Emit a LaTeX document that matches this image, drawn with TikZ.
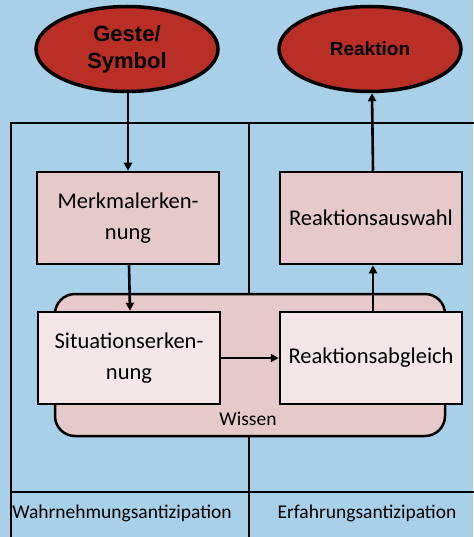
\documentclass[tikz,border=0pt]{standalone}
\usepackage{fontspec}
\setmainfont{Carlito}
\newfontfamily\headfont{Liberation Sans}
\usetikzlibrary{arrows.meta,shapes.geometric}

\definecolor{skyblue}{RGB}{168,208,232}
\definecolor{deepred}{RGB}{185,46,37}
\definecolor{rosebox}{RGB}{230,202,202}
\definecolor{palebox}{RGB}{242,230,230}

\tikzset{
  endpoint/.style={ellipse, draw, line width=3.5pt, fill=deepred,
    minimum width=182pt, minimum height=85pt,
    font=\headfont\bfseries\fontsize{22}{27}\selectfont, align=center},
  stepbox/.style={rectangle, draw, line width=2.5pt,
    minimum width=182pt, minimum height=92pt,
    font=\fontsize{22.5}{31}\selectfont, align=center},
  lanetext/.style={font=\fontsize{19.5}{22}\selectfont},
  flow/.style={line width=2.6pt, -{Triangle[length=8pt,width=8pt]}},
  lane/.style={line width=1.8pt}
}

\begin{document}
\begin{tikzpicture}[x=1pt,y=-1pt]
  \useasboundingbox[fill=skyblue] (0,0) rectangle (473,537);

  % swim lanes
  \draw[lane] (11,540) -- (11,123) -- (480,123);
  \draw[lane] (249,123) -- (249,540);
  \draw[lane] (11,492) -- (480,492);

  \node[rectangle, draw, line width=2.5pt, fill=rosebox, rounded corners=20pt,
    minimum width=390pt, minimum height=142pt] (wissen) at (250,365) {};
  \node[lanetext] (wissentext) at (248,419) {Wissen};

  \node[endpoint] (geste) at (127,49) {Geste/\\Symbol};
  \node[endpoint, font=\headfont\bfseries\fontsize{19}{23}\selectfont] (reaktion) at (370,49) {Reaktion};

  \node[stepbox, fill=rosebox] (merkmal) at (128,218) {Merkmalerken-\\nung};
  \node[stepbox, fill=rosebox] (auswahl) at (371,218) {Reaktionsauswahl};
  \node[stepbox, fill=palebox] (situation) at (129,358) {Situationserken-\\nung};
  \node[stepbox, fill=palebox] (abgleich) at (371,358) {Reaktionsabgleich};

  \draw[flow] (geste.south -| merkmal.north) -- (merkmal.north);
  \draw[flow] ([xshift=1pt]merkmal.south) -- ([xshift=1pt]situation.north);
  \draw[flow] (situation.east) -- (abgleich.west);
  \draw[flow] ([xshift=2pt]abgleich.north) -- ([xshift=2pt]auswahl.south);
  \draw[flow] ([xshift=2pt]auswahl.north) -- ([xshift=2pt]reaktion.south);

  \node[lanetext] (perzeption) at (122,513) {Wahrnehmungsantizipation};
  \node[lanetext] (erfahrung) at (367,513) {Erfahrungsantizipation};
\end{tikzpicture}
\end{document}
